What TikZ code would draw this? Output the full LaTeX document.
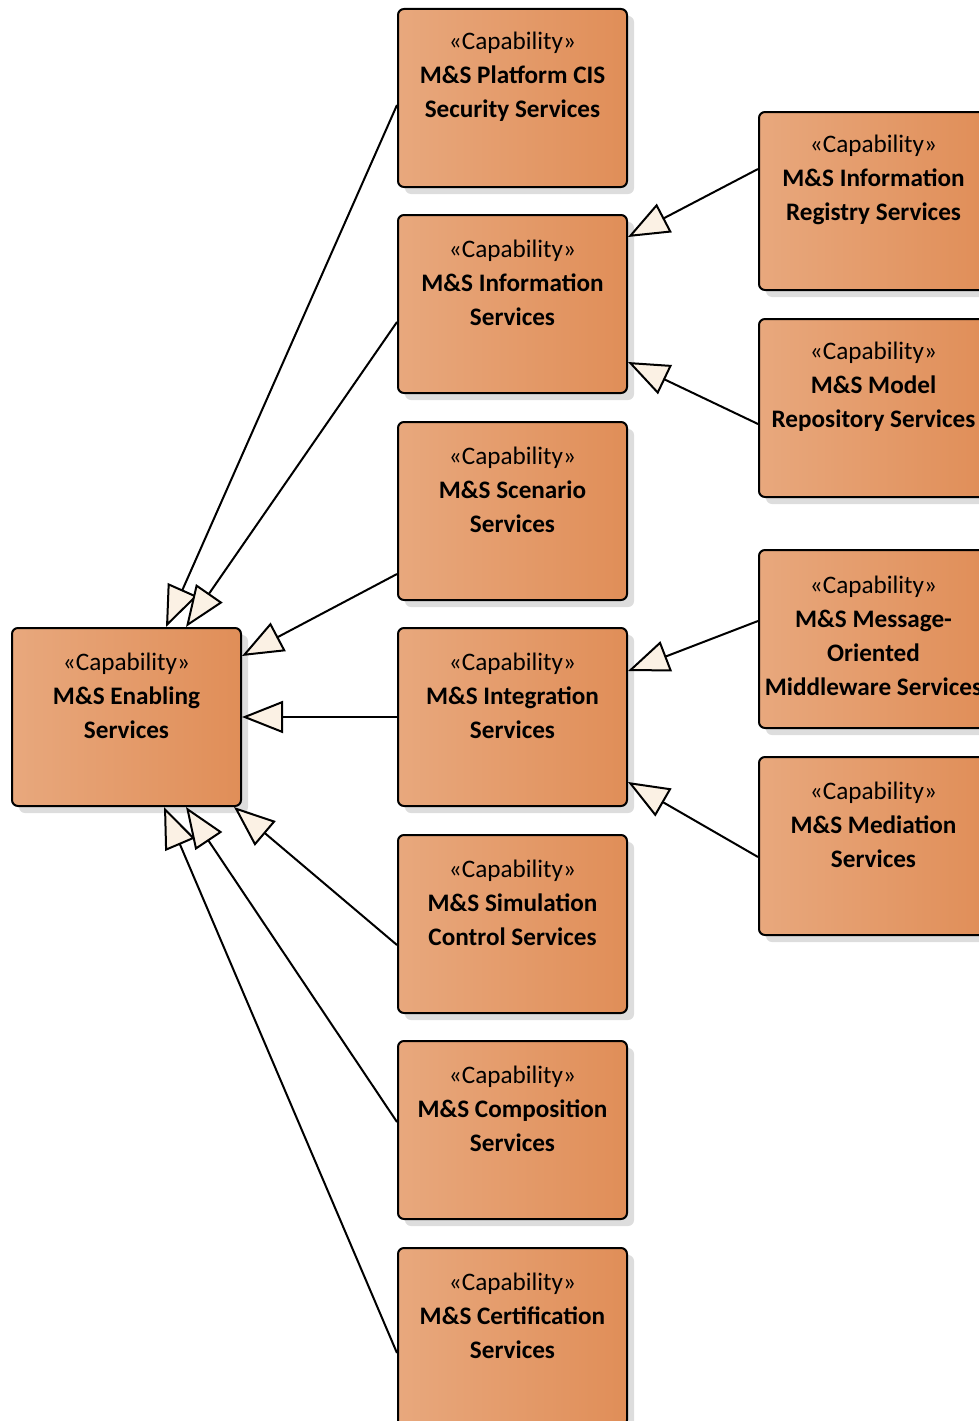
\documentclass[tikz,border=0pt]{standalone}
\usepackage{fontspec}
\setmainfont{Carlito}
\usetikzlibrary{arrows.meta,shadows}
\definecolor{boxL}{HTML}{E8A87D}
\definecolor{boxR}{HTML}{E08E58}
\definecolor{shadowc}{HTML}{DDDDDD}
\definecolor{headc}{HTML}{FBF1E4}
\tikzset{
  capbox/.style={draw=black, line width=2pt, rounded corners=6pt,
    minimum width=229pt, minimum height=178pt, inner sep=0pt,
    left color=boxL, right color=boxR,
    drop shadow={shadow xshift=7pt, shadow yshift=-7pt, fill=shadowc, opacity=1}},
  captxt/.style={align=center, inner sep=0pt, font=\fontsize{25.2}{34}\selectfont},
  gen/.style={line width=2pt, -{Triangle[open, fill=headc, length=41pt, width=32pt]}}
}
\begin{document}
\begin{tikzpicture}[x=1pt,y=-1pt]
\useasboundingbox (0,0) rectangle (979,1421);
\clip (0,0) rectangle (979,1421);
% boxes
\node[capbox] (en)   at (126.5,717) {};
\node[capbox] (cis)  at (512.5,98) {};
\node[capbox] (info) at (512.5,304) {};
\node[capbox] (scen) at (512.5,511) {};
\node[capbox] (integ) at (512.5,717) {};
\node[capbox] (sim)  at (512.5,924) {};
\node[capbox] (comp) at (512.5,1130) {};
\node[capbox] (cert) at (512.5,1337) {};
\node[capbox] (reg)  at (873.5,201) {};
\node[capbox] (model) at (873.5,408) {};
\node[capbox] (msg)  at (873.5,639) {};
\node[capbox] (med)  at (873.5,846) {};
% texts
\node[captxt] (ten) at ([yshift=-69pt]en.north) {«Capability»\\\textbf{M\&S Enabling}\\\textbf{Services}};
\node[captxt] (tcis) at ([yshift=-69pt]cis.north) {«Capability»\\\textbf{M\&S Platform CIS}\\\textbf{Security Services}};
\node[captxt] (tinfo) at ([yshift=-69pt]info.north) {«Capability»\\\textbf{M\&S Information}\\\textbf{Services}};
\node[captxt] (tscen) at ([yshift=-69pt]scen.north) {«Capability»\\\textbf{M\&S Scenario}\\\textbf{Services}};
\node[captxt] (tinteg) at ([yshift=-69pt]integ.north) {«Capability»\\\textbf{M\&S Integration}\\\textbf{Services}};
\node[captxt] (tsim) at ([yshift=-69pt]sim.north) {«Capability»\\\textbf{M\&S Simulation}\\\textbf{Control Services}};
\node[captxt] (tcomp) at ([yshift=-69pt]comp.north) {«Capability»\\\textbf{M\&S Composition}\\\textbf{Services}};
\node[captxt] (tcert) at ([yshift=-69pt]cert.north) {«Capability»\\\textbf{M\&S Certification}\\\textbf{Services}};
\node[captxt] (treg) at ([yshift=-69pt]reg.north) {«Capability»\\\textbf{M\&S Information}\\\textbf{Registry Services}};
\node[captxt] (tmodel) at ([yshift=-69pt]model.north) {«Capability»\\\textbf{M\&S Model}\\\textbf{Repository Services}};
\node[captxt] (tmsg) at ([yshift=-86.5pt]msg.north) {«Capability»\\\textbf{M\&S Message-}\\\textbf{Oriented}\\\textbf{Middleware Services}};
\node[captxt] (tmed) at ([yshift=-69pt]med.north) {«Capability»\\\textbf{M\&S Mediation}\\\textbf{Services}};
% connectors to Enabling
\draw[gen] ([yshift=-7pt]cis.west) -- ([xshift=155pt]en.north west);
\draw[gen] ([yshift=-18pt]info.west) -- ([xshift=175pt]en.north west);
\draw[gen] ([yshift=-63pt]scen.west) -- ([yshift=-29pt]en.north east);
\draw[gen] (integ.west) -- (en.east);
\draw[gen] ([yshift=-21pt]sim.west) -- ([xshift=-8pt]en.south east);
\draw[gen] ([yshift=8pt]comp.west) -- ([xshift=175pt]en.south west);
\draw[gen] ([yshift=-16pt]cert.west) -- ([xshift=153pt]en.south west);
% connectors right column
\draw[gen] ([yshift=32pt]reg.west) -- ([yshift=-23pt]info.north east);
\draw[gen] ([yshift=-16pt]model.west) -- ([yshift=-58pt]info.east);
\draw[gen] ([yshift=18pt]msg.west) -- ([yshift=46pt]integ.east);
\draw[gen] ([yshift=-11pt]med.west) -- ([yshift=-65pt]integ.east);
\end{tikzpicture}
\end{document}
